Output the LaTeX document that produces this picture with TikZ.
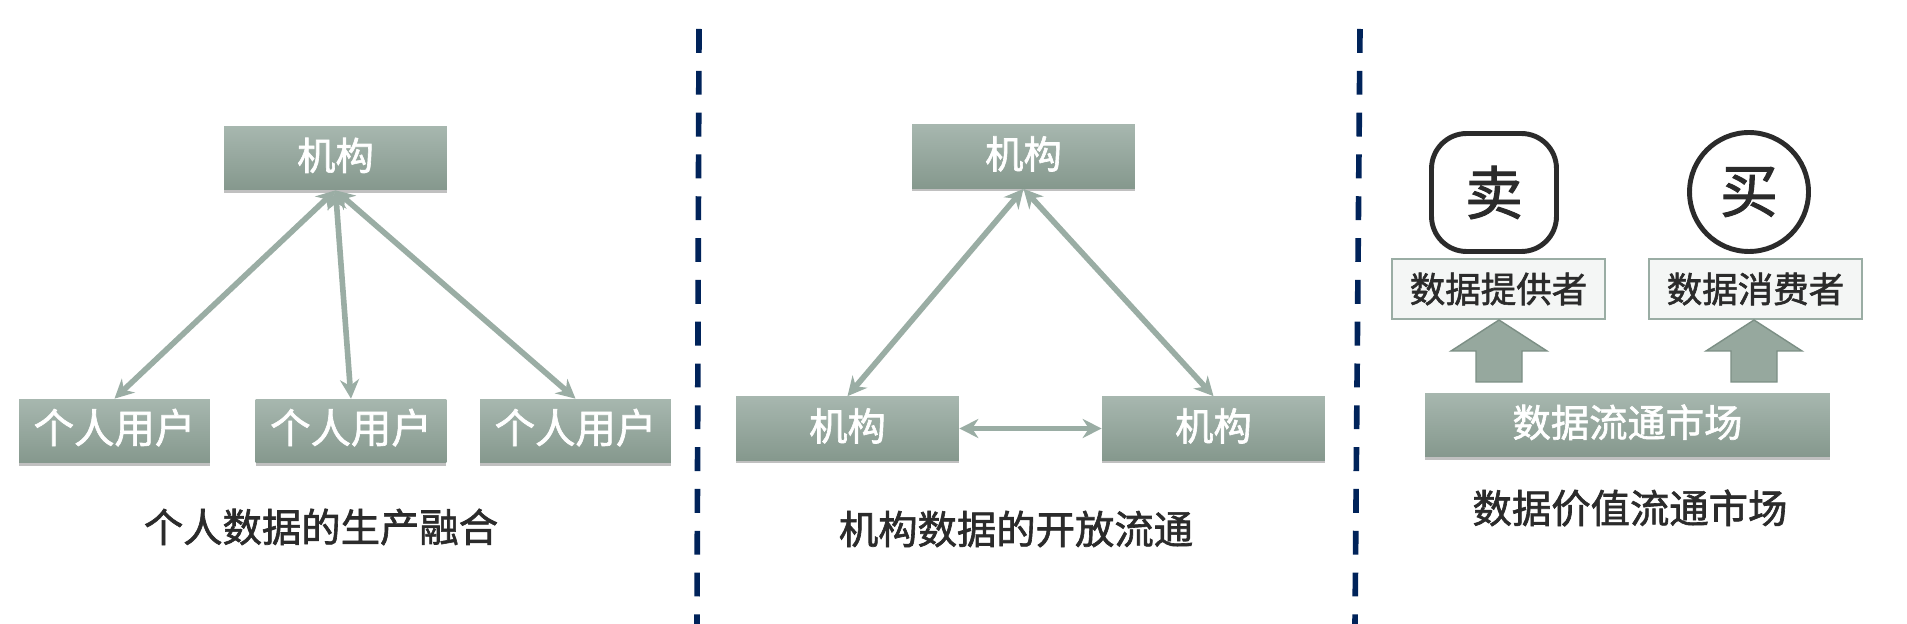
\documentclass[tikz,border=0pt]{standalone}
\usepackage{fontspec}
\setmainfont[FakeBold=1.6]{Noto Sans CJK SC}
\usetikzlibrary{shadows, arrows.meta}
\definecolor{linkcolor}{RGB}{154,173,164}
\definecolor{boxtop}{RGB}{167,183,175}
\definecolor{boxbottom}{RGB}{133,152,141}
\definecolor{arrowcolor}{RGB}{150,168,158}
\definecolor{arrowedge}{RGB}{124,143,133}
\definecolor{dividercolor}{RGB}{0,35,90}
\definecolor{inkcolor}{RGB}{43,43,43}
\tikzset{
    greybox/.style={inner sep=0pt, top color=boxtop, bottom color=boxbottom, text=white,
        text height=15pt, text depth=1.4pt, font=\fontsize{21.8pt}{24pt}\selectfont,
        drop shadow={shadow xshift=0pt, shadow yshift=-1.5pt, opacity=.35, fill=black!70}},
    orgbox/.style={greybox, minimum width=4.46cm, minimum height=1.28cm},
    userbox/.style={greybox, minimum width=3.82cm, minimum height=1.28cm, font=\fontsize{23pt}{26pt}\selectfont},
    rolebox/.style={inner sep=0pt, minimum width=4.26cm, minimum height=1.2cm, draw=linkcolor, line width=.9pt,
        fill=boxtop!12, text=inkcolor, font=\fontsize{20.2pt}{22pt}\selectfont},
    upshape/.style={fill=arrowcolor, draw=arrowedge, line width=.8pt},
    signbox/.style={inner sep=0pt, draw=inkcolor, line width=2.8pt, text=inkcolor, font=\fontsize{33pt}{36pt}\selectfont},
    caption/.style={inner sep=0pt, text=inkcolor, font=\fontsize{22.4pt}{26pt}\selectfont},
    link/.style={{Stealth[length=.38cm,width=.38cm]}-{Stealth[length=.38cm,width=.38cm]}, draw=linkcolor, line width=3.2pt},
    divider/.style={draw=dividercolor, line width=3.2pt, dash pattern=on 13.6pt off 10.2pt}
}
\begin{document}
\begin{tikzpicture}[x=0.02cm, y=-0.02cm]
    \useasboundingbox[fill=white] (0,0) rectangle (1907,624);

    \coordinate (div1a) at (699,29);
    \coordinate (div1b) at (697,624);
    \coordinate (div2a) at (1360,29);
    \coordinate (div2b) at (1355,624);
    \draw[divider] (div1a) -- (div1b);
    \draw[divider] (div2a) -- (div2b);

    \node[orgbox] (org) at (335.5,158) {机构};
    \node[userbox] (user1) at (114.5,431) {个人用户};
    \node[userbox] (user2) at (351,431) {个人用户};
    \node[userbox] (user3) at (575.5,431) {个人用户};
    \draw[link] (org.south) -- (user1.north);
    \draw[link] (org.south) -- (user2.north);
    \draw[link] (org.south) -- (user3.north);
    \node[caption] (cap1) at (321,527) {个人数据的生产融合};

    \node[orgbox] (orgA) at (1023.5,156.5) {机构};
    \node[orgbox] (orgB) at (847.5,428.5) {机构};
    \node[orgbox] (orgC) at (1213.5,428.5) {机构};
    \draw[link] (orgA.south) -- (orgB.north);
    \draw[link] (orgA.south) -- (orgC.north);
    \draw[link] (orgB.east) -- (orgC.west);
    \node[caption] (cap2) at (1016,529) {机构数据的开放流通};

    \node[signbox, rounded corners=20pt, minimum width=2.5cm, minimum height=2.36cm] (sell) at (1494,192.5) {卖};
    \node[signbox, circle, minimum size=2.38cm] (buy) at (1749,192) {买};
    \node[rolebox] (seller) at (1498.5,289) {数据提供者};
    \node[rolebox] (buyer) at (1755.5,289) {数据消费者};
    \draw[upshape] (1499,320) -- (1547,351) -- (1522,351) -- (1522,382) -- (1476,382) -- (1476,351) -- (1451,351) -- cycle;
    \draw[upshape] (1754,320) -- (1802,351) -- (1777,351) -- (1777,382) -- (1731,382) -- (1731,351) -- (1706,351) -- cycle;
    \node[greybox, minimum width=8.1cm, minimum height=1.28cm] (market) at (1627.5,425) {数据流通市场};
    \node[caption] (cap3) at (1630,508) {数据价值流通市场};
\end{tikzpicture}
\end{document}
